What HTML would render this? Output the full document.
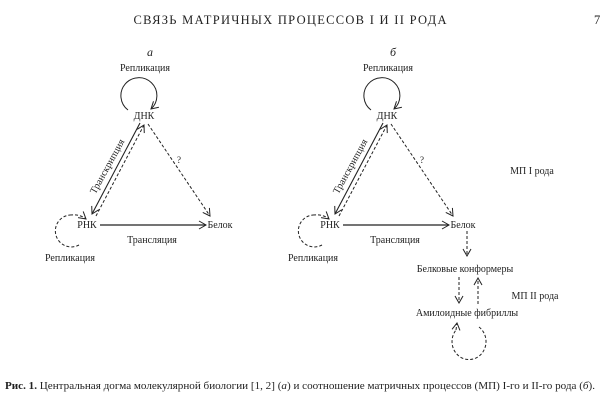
<!DOCTYPE html>
<html><head><meta charset="utf-8"><style>
html,body{margin:0;padding:0;background:#fff;width:600px;height:402px;overflow:hidden}
svg{display:block}
text{font-family:"Liberation Serif","DejaVu Serif",serif;fill:#222}
</style></head><body>
<svg width="600" height="402" viewBox="0 0 600 402" xmlns="http://www.w3.org/2000/svg">
<defs>
<marker id="ah" markerWidth="10" markerHeight="10" refX="8" refY="5" orient="auto" markerUnits="userSpaceOnUse">
<path d="M1,1 L8,5 L1,9" fill="none" stroke="#222" stroke-width="1"/>
</marker>
</defs>
<text x="290" y="24" font-size="12.5" text-anchor="middle" textLength="313">СВЯЗЬ МАТРИЧНЫХ ПРОЦЕССОВ I И II РОДА</text>
<text x="594" y="24" font-size="12.5">7</text>

<g stroke="#222" fill="none" stroke-width="1">
  <path d="M128,110 A18,18 0 1 1 151,109" marker-end="url(#ah)"/>
  <line x1="140" y1="123" x2="92" y2="214" marker-end="url(#ah)" stroke-width="1.1"/>
  <line x1="96" y1="216" x2="144" y2="125" stroke-dasharray="3,2" marker-end="url(#ah)"/>
  <line x1="148" y1="124" x2="210" y2="216" stroke-dasharray="3,2" marker-end="url(#ah)"/>
  <line x1="100" y1="225" x2="206" y2="225" stroke-width="1.3" marker-end="url(#ah)"/>
  <path d="M79,245 A16,16 0 1 1 70,215" stroke-dasharray="3,2"/>
  <path d="M70,215 Q80,214 86,219" stroke-dasharray="3,2" marker-end="url(#ah)"/>
</g>
<g font-size="10">
  <text x="150" y="56" font-style="italic" font-size="12" text-anchor="middle">а</text>
  <text x="145" y="71" text-anchor="middle">Репликация</text>
  <text x="144" y="119" text-anchor="middle">ДНК</text>
  <text x="87" y="228" text-anchor="middle">РНК</text>
  <text x="220" y="228" text-anchor="middle">Белок</text>
  <text x="152" y="243" text-anchor="middle">Трансляция</text>
  <text x="70" y="261" text-anchor="middle">Репликация</text>
  <text x="177" y="163" font-size="9">?</text>
  <text transform="translate(110,168) rotate(-61)" text-anchor="middle" font-size="10">Транскрипция</text>
</g>

<g transform="translate(243,0)">
<g stroke="#222" fill="none" stroke-width="1">
  <path d="M128,110 A18,18 0 1 1 151,109" marker-end="url(#ah)"/>
  <line x1="140" y1="123" x2="92" y2="214" marker-end="url(#ah)" stroke-width="1.1"/>
  <line x1="96" y1="216" x2="144" y2="125" stroke-dasharray="3,2" marker-end="url(#ah)"/>
  <line x1="148" y1="124" x2="210" y2="216" stroke-dasharray="3,2" marker-end="url(#ah)"/>
  <line x1="100" y1="225" x2="206" y2="225" stroke-width="1.3" marker-end="url(#ah)"/>
  <path d="M79,245 A16,16 0 1 1 70,215" stroke-dasharray="3,2"/>
  <path d="M70,215 Q80,214 86,219" stroke-dasharray="3,2" marker-end="url(#ah)"/>
</g>
<g font-size="10">
  <text x="150" y="56" font-style="italic" font-size="12" text-anchor="middle">б</text>
  <text x="145" y="71" text-anchor="middle">Репликация</text>
  <text x="144" y="119" text-anchor="middle">ДНК</text>
  <text x="87" y="228" text-anchor="middle">РНК</text>
  <text x="220" y="228" text-anchor="middle">Белок</text>
  <text x="152" y="243" text-anchor="middle">Трансляция</text>
  <text x="70" y="261" text-anchor="middle">Репликация</text>
  <text x="177" y="163" font-size="9">?</text>
  <text transform="translate(110,168) rotate(-61)" text-anchor="middle" font-size="10">Транскрипция</text>
</g>
</g>

<g stroke="#222" fill="none" stroke-width="1" stroke-dasharray="3,2">
  <line x1="467" y1="231" x2="467" y2="256" marker-end="url(#ah)"/>
  <line x1="459" y1="277" x2="459" y2="303" marker-end="url(#ah)"/>
  <line x1="478" y1="304" x2="478" y2="278" marker-end="url(#ah)"/>
  <path d="M479,327 A17,18 0 1 1 456,330"/>
  <path d="M456,330 L457,323" marker-end="url(#ah)"/>
</g>
<g font-size="10">
  <text x="532" y="174" text-anchor="middle">МП I рода</text>
  <text x="465" y="272" text-anchor="middle">Белковые конформеры</text>
  <text x="535" y="299" text-anchor="middle">МП II рода</text>
  <text x="467" y="316" text-anchor="middle">Амилоидные фибриллы</text>
</g>

<text x="5" y="389" font-size="10.5" textLength="590" lengthAdjust="spacingAndGlyphs"><tspan font-weight="bold">Рис. 1.</tspan> Центральная догма молекулярной биологии [1, 2] (<tspan font-style="italic">а</tspan>) и соотношение матричных процессов (МП) I-го и II-го рода (<tspan font-style="italic">б</tspan>).</text>
</svg>
</body></html>
